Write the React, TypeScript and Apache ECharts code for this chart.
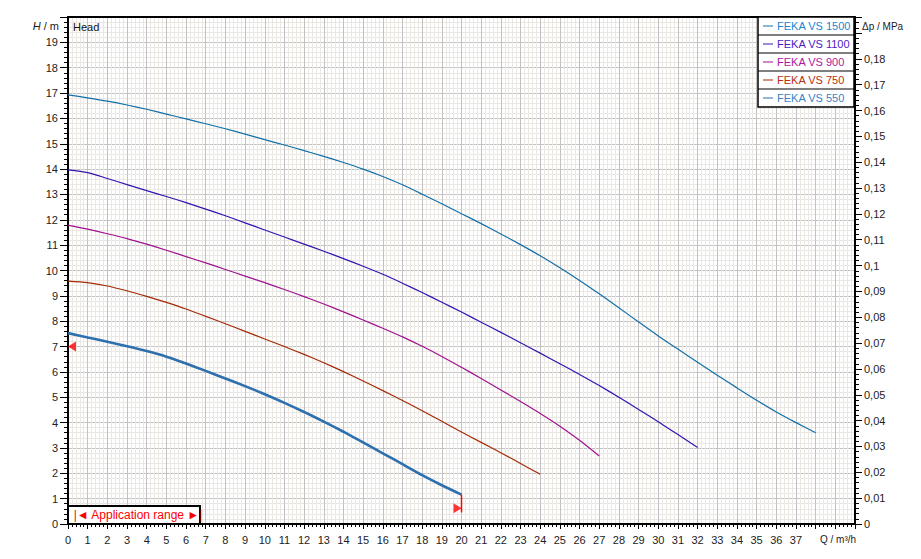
import React, { useEffect, useRef } from "react";
import * as echarts from "echarts";

const flowSteps = [0, 1, 2, 3, 4, 5, 6, 7, 8, 9, 10, 11, 12, 13, 14, 15, 16, 17, 18, 19, 20, 21, 22, 23, 24, 25, 26, 27, 28, 29, 30, 31, 32, 33, 34, 35, 36, 37, 38];

const head1500 = [16.93, 16.81, 16.68, 16.53, 16.36, 16.17, 15.98, 15.79, 15.59, 15.38, 15.16, 14.95, 14.73, 14.5, 14.26, 14.0, 13.71, 13.38, 13.01, 12.63, 12.24, 11.85, 11.44, 11.02, 10.58, 10.11, 9.61, 9.08, 8.53, 7.97, 7.42, 6.9, 6.38, 5.87, 5.37, 4.88, 4.42, 4.0, 3.6];
const head1100 = [13.97, 13.86, 13.63, 13.39, 13.15, 12.92, 12.68, 12.42, 12.16, 11.88, 11.6, 11.32, 11.04, 10.76, 10.47, 10.17, 9.85, 9.5, 9.13, 8.75, 8.36, 7.96, 7.56, 7.15, 6.74, 6.32, 5.9, 5.46, 5.0, 4.52, 4.03, 3.53, 3.02];
const head900 = [11.79, 11.63, 11.45, 11.26, 11.04, 10.8, 10.55, 10.3, 10.04, 9.78, 9.52, 9.25, 8.97, 8.68, 8.37, 8.05, 7.72, 7.38, 7.01, 6.61, 6.18, 5.74, 5.29, 4.83, 4.36, 3.86, 3.3, 2.68];
const head750 = [9.58, 9.52, 9.39, 9.2, 8.98, 8.74, 8.48, 8.19, 7.9, 7.6, 7.3, 7.0, 6.69, 6.36, 6.01, 5.64, 5.26, 4.87, 4.47, 4.05, 3.63, 3.22, 2.81, 2.39, 1.96];
const head550 = [7.53, 7.36, 7.19, 7.01, 6.82, 6.6, 6.33, 6.04, 5.74, 5.44, 5.12, 4.78, 4.42, 4.04, 3.64, 3.22, 2.79, 2.36, 1.93, 1.53, 1.16];

const seriesNames = ["FEKA VS 1500", "FEKA VS 1100", "FEKA VS 900", "FEKA VS 750", "FEKA VS 550"];
const seriesHeads = [head1500, head1100, head900, head750, head550];
const lineColors = ["#1270a8", "#3812b0", "#a0118e", "#a32a05", "#2e6fae"];
const legendTextColors = ["#2185d0", "#4a1cc4", "#b0169e", "#b8300c", "#3a82c8"];
const lineWidths = [1.2, 1.2, 1.2, 1.2, 2.6];

// application range markers
const appStartMarker = [0, 7.0];
const appEndMarker = [20, 0.62];
const appEndLine = [[20, 1.16], [20, 0.45]];

const xTickMax = 37;
const headTickMax = 19;
const pressureMax = 0.1962;
const pressureTickMax = 0.185;

const FONT = "'Liberation Sans', Arial, sans-serif";

export default function App() {
  const ref = useRef<HTMLDivElement>(null);

  useEffect(() => {
    if (!ref.current) return;
    const chart = echarts.init(ref.current, undefined, { renderer: "svg" });

    const curveSeries = seriesNames.map((name, i) => ({
      name,
      type: "line",
      xAxisIndex: 0,
      yAxisIndex: 0,
      data: seriesHeads[i].map((h, k) => [flowSteps[k], h]),
      symbol: "none",
      smooth: 0.25,
      lineStyle: { color: lineColors[i], width: lineWidths[i] },
      itemStyle: { color: lineColors[i] },
      z: 5,
    }));

    const legendLeft = 758;
    const legendTop = 17;
    const rowH = 18;
    const legendW = 96;
    const legendEls: any[] = [
      {
        type: "rect",
        shape: { x: legendLeft, y: legendTop, width: legendW, height: rowH * seriesNames.length },
        style: { fill: "#fff", stroke: "#000", lineWidth: 1.5 },
        z: 100,
      },
    ];
    seriesNames.forEach((name, i) => {
      const cy = legendTop + rowH * i + rowH / 2;
      if (i > 0) {
        legendEls.push({
          type: "line",
          shape: { x1: legendLeft, y1: legendTop + rowH * i, x2: legendLeft + legendW, y2: legendTop + rowH * i },
          style: { stroke: "#000", lineWidth: 1.2 },
          z: 101,
        });
      }
      legendEls.push({
        type: "line",
        shape: { x1: 763, y1: cy, x2: 773, y2: cy },
        style: { stroke: lineColors[i], lineWidth: 1 },
        z: 101,
      });
      legendEls.push({
        type: "text",
        x: 777,
        y: cy,
        style: {
          text: name,
          fill: legendTextColors[i],
          font: `11px ${FONT}`,
          verticalAlign: "middle",
        },
        z: 101,
      });
    });

    const option: any = {
      animation: false,
      backgroundColor: "#ffffff",
      textStyle: { fontFamily: FONT },
      grid: { left: 68, right: 66, top: 17, bottom: 35, containLabel: false },
      xAxis: [
        {
          type: "value",
          min: 0,
          max: 40,
          interval: 1,
          position: "bottom",
          axisLine: { show: true, onZero: false, lineStyle: { color: "#000", width: 2 } },
          axisTick: { show: true, length: 5, lineStyle: { color: "#000", width: 1 } },
          minorTick: { show: true, splitNumber: 5, length: 3, lineStyle: { color: "#000", width: 1 } },
          splitLine: { show: true, lineStyle: { color: "#c2c2c2", width: 1 } },
          minorSplitLine: { show: true, lineStyle: { color: "#ebe8e3", width: 1 } },
          axisLabel: {
            color: "#222",
            fontSize: 11,
            fontFamily: FONT,
            margin: 10,
            formatter: (v: number) => (v <= xTickMax ? String(v) : ""),
          },
        },
        {
          type: "value",
          min: 0,
          max: 40,
          position: "top",
          axisLine: { show: true, onZero: false, lineStyle: { color: "#000", width: 2 } },
          axisTick: { show: false },
          axisLabel: { show: false },
          splitLine: { show: false },
        },
      ],
      yAxis: [
        {
          type: "value",
          min: 0,
          max: 20,
          interval: 1,
          position: "left",
          axisLine: { show: true, onZero: false, lineStyle: { color: "#000", width: 2 } },
          axisTick: { show: true, length: 8, lineStyle: { color: "#000", width: 1 } },
          minorTick: { show: true, splitNumber: 5, length: 4, lineStyle: { color: "#000", width: 1 } },
          splitLine: { show: true, lineStyle: { color: "#c2c2c2", width: 1 } },
          minorSplitLine: { show: true, lineStyle: { color: "#ebe8e3", width: 1 } },
          axisLabel: {
            color: "#222",
            fontSize: 11,
            fontFamily: FONT,
            margin: 10,
            formatter: (v: number) => (v <= headTickMax ? String(v) : ""),
          },
        },
        {
          type: "value",
          min: 0,
          max: pressureMax,
          interval: 0.01,
          position: "right",
          axisLine: { show: true, onZero: false, lineStyle: { color: "#000", width: 2 } },
          axisTick: { show: true, length: 7, lineStyle: { color: "#000", width: 1 } },
          minorTick: { show: true, splitNumber: 5, length: 4, lineStyle: { color: "#000", width: 1 } },
          splitLine: { show: false },
          axisLabel: {
            color: "#222",
            fontSize: 11,
            fontFamily: FONT,
            margin: 9,
            formatter: (v: number) =>
              v > pressureTickMax ? "" : String(parseFloat(v.toFixed(2))).replace(".", ","),
          },
        },
      ],
      series: [
        ...curveSeries,
        {
          name: "appEndLine",
          type: "line",
          data: appEndLine,
          symbol: "none",
          lineStyle: { color: "#ff0000", width: 1.5 },
          z: 6,
        },
        {
          name: "appMarkers",
          type: "scatter",
          data: [
            { value: appStartMarker, symbolRotate: 90, symbolOffset: [4, 0] },
            { value: appEndMarker, symbolRotate: -90, symbolOffset: [-4, 0] },
          ],
          symbol: "triangle",
          symbolSize: [10, 8],
          itemStyle: { color: "#ff0000" },
          z: 7,
        },
      ],
      graphic: [
        {
          type: "text",
          x: 59,
          y: 26,
          style: {
            text: "{i|H} / m",
            align: "right",
            verticalAlign: "middle",
            fill: "#222",
            font: `11px ${FONT}`,
            rich: { i: { fontStyle: "italic", fontSize: 11, fontFamily: FONT, fill: "#222" } },
          },
          z: 100,
        },
        {
          type: "text",
          x: 73,
          y: 27,
          style: { text: "Head", verticalAlign: "middle", fill: "#111", font: `11px ${FONT}` },
          z: 100,
        },
        {
          type: "text",
          x: 862,
          y: 26,
          style: { text: "Δp / MPa", verticalAlign: "middle", fill: "#222", font: `10px ${FONT}` },
          z: 100,
        },
        {
          type: "text",
          x: 820,
          y: 539,
          style: { text: "Q / m³/h", verticalAlign: "middle", fill: "#222", font: `10px ${FONT}` },
          z: 100,
        },
        {
          type: "rect",
          shape: { x: 68, y: 506, width: 132, height: 18 },
          style: { fill: "#fff", stroke: "#000", lineWidth: 2 },
          z: 100,
        },
        {
          type: "text",
          x: 138,
          y: 515,
          style: {
            text: "|◄ Application range ►|",
            align: "center",
            verticalAlign: "middle",
            fill: "#ff0000",
            font: `12px ${FONT}`,
          },
          z: 101,
        },
        ...legendEls,
      ],
    };

    chart.setOption(option);
    return () => chart.dispose();
  }, []);

  return (
    <div
      ref={ref}
      style={{ position: "absolute", left: 0, top: 0, width: 921, height: 559, background: "#fff" }}
    />
  );
}
